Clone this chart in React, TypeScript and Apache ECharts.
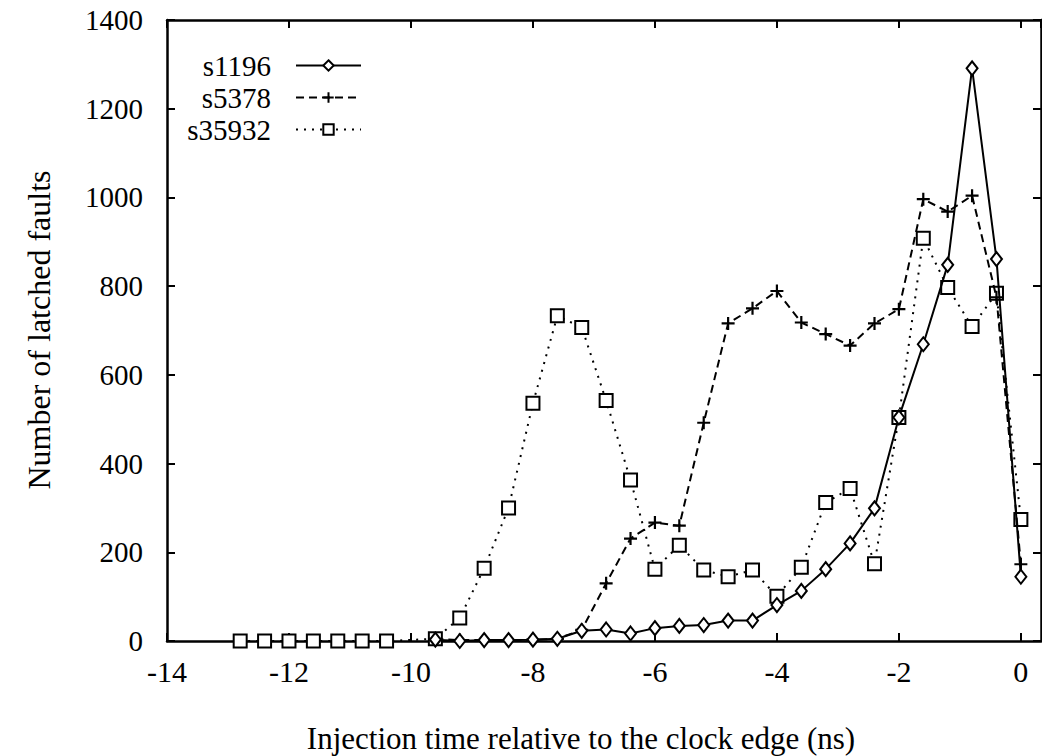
import React, { useEffect, useRef } from "react";
import * as echarts from "echarts";

const seriesNames = ["s1196", "s5378", "s35932"];

const xMain = [-9.6, -9.2, -8.8, -8.4, -8.0, -7.6, -7.2, -6.8, -6.4, -6.0, -5.6, -5.2, -4.8, -4.4, -4.0, -3.6, -3.2, -2.8, -2.4, -2.0, -1.6, -1.2, -0.8, -0.4, 0.0];
const xEarly = [-12.8, -12.4, -12.0, -11.6, -11.2, -10.8, -10.4];

const s1196 = [3, 0, 2, 2, 3, 5, 23, 26, 17, 29, 34, 36, 46, 46, 81, 113, 162, 220, 299, 504, 669, 848, 1291, 861, 145];
const s5378 = [5, 2, 2, 2, 3, 5, 25, 130, 231, 267, 260, 492, 716, 750, 789, 718, 692, 666, 716, 748, 996, 968, 1004, 775, 173];
const s35932Early = [0, 0, 0, 0, 0, 0, 0];
const s35932 = [5, 52, 164, 300, 536, 733, 707, 542, 363, 162, 216, 160, 145, 160, 101, 166, 312, 344, 174, 504, 908, 797, 709, 784, 274];

const xTitle = "Injection time relative to the clock edge (ns)";
const yTitle = "Number of latched faults";

const FONT = "'Liberation Serif', 'DejaVu Serif', serif";

export default function App() {
  const ref = useRef<HTMLDivElement>(null);
  useEffect(() => {
    if (!ref.current) return;
    const chart = echarts.init(ref.current, undefined, { renderer: "svg" });
    const pairs = (xs: number[], ys: number[]) => xs.map((x, i) => [x, ys[i]]);
    const axisLine = { show: true, onZero: false, lineStyle: { color: "#000", width: 2.5 } };
    const tick = { show: true, inside: true, length: 8, lineStyle: { color: "#000", width: 2 } };
    const legendBase = {
      orient: "horizontal" as const,
      align: "right" as const,
      right: 675,
      itemWidth: 65,
      itemHeight: 13,
      textStyle: { fontFamily: FONT, fontSize: 29, color: "#000", padding: [0, 20, 0, 0] },
      inactiveColor: "#000",
      selectedMode: false as const,
    };
    chart.setOption({
      animation: false,
      backgroundColor: "#fff",
      grid: { left: 167, right: 1, top: 20, bottom: 115, containLabel: false },
      xAxis: [
        {
          type: "value", min: -14, max: 0.33, interval: 2,
          axisLine, axisTick: tick, splitLine: { show: false },
          axisLabel: { fontFamily: FONT, fontSize: 30, color: "#000", margin: 15, formatter: (v: number) => String(v) },
        },
        {
          type: "value", position: "top", min: -14, max: 0.33, interval: 2,
          axisLine, axisTick: tick, splitLine: { show: false }, axisLabel: { show: false },
        },
      ],
      yAxis: [
        {
          type: "value", min: 0, max: 1400, interval: 200,
          axisLine, axisTick: tick, splitLine: { show: false },
          axisLabel: { fontFamily: FONT, fontSize: 29, color: "#000", margin: 24, formatter: (v: number) => String(v) },
        },
        {
          type: "value", position: "right", min: 0, max: 1400, interval: 200,
          axisLine, axisTick: tick, splitLine: { show: false }, axisLabel: { show: false },
        },
      ],
      legend: [
        { ...legendBase, top: 46, data: [seriesNames[0]] },
        { ...legendBase, top: 78, data: [seriesNames[1]] },
        { ...legendBase, top: 110, data: [seriesNames[2]] },
      ],
      series: [
        {
          name: seriesNames[0], type: "line", data: pairs(xMain, s1196),
          symbol: "emptyDiamond", symbolSize: [11, 14],
          lineStyle: { color: "#000", width: 2, type: "solid" },
          itemStyle: { color: "#000", borderWidth: 1.8 },
          z: 3,
        },
        {
          name: seriesNames[1], type: "line", data: pairs(xMain, s5378),
          symbol: "path://M6 0L6 12M0 6L12 6", symbolSize: 13,
          lineStyle: { color: "#000", width: 2, type: [8, 5] },
          itemStyle: { color: "transparent", borderColor: "#000", borderWidth: 2.2 },
          z: 2,
        },
        {
          name: seriesNames[2], type: "line",
          data: [...pairs(xEarly, s35932Early), ...pairs(xMain, s35932)],
          symbol: "emptyRect", symbolSize: 13,
          lineStyle: { color: "#000", width: 2, type: [2, 6] },
          itemStyle: { color: "#000", borderWidth: 2 },
          z: 1,
        },
      ],
      graphic: [
        {
          type: "text", x: 581, y: 738,
          style: { text: xTitle, fontFamily: FONT, fontSize: 31, fill: "#000", align: "center", verticalAlign: "middle" },
        },
        {
          type: "text", x: 39, y: 330, rotation: Math.PI / 2,
          style: { text: yTitle, fontFamily: FONT, fontSize: 32, fill: "#000", align: "center", verticalAlign: "middle" },
        },
      ],
    });
    return () => chart.dispose();
  }, []);
  return <div ref={ref} style={{ position: "fixed", left: 0, top: 0, width: 1042, height: 756 }} />;
}
